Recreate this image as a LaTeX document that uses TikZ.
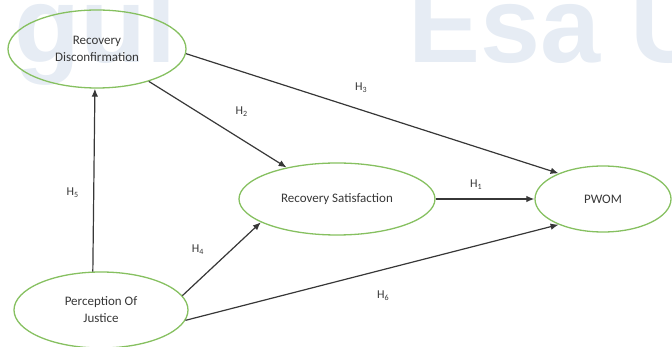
\documentclass[tikz,border=0pt]{standalone}
\usepackage{fontspec}
\setmainfont{Carlito}
\newfontfamily\wmfont{Liberation Sans}
\usetikzlibrary{arrows.meta,shapes.geometric}
\definecolor{ringgreen}{RGB}{134,192,96}
\definecolor{inkgray}{RGB}{55,55,55}
\definecolor{wmblue}{RGB}{230,236,244}

\begin{document}
\begin{tikzpicture}[
    x=1pt, y=-1pt,
    construct/.style={draw=ringgreen, line width=1.3pt, ellipse, inner sep=0pt, align=center, text=inkgray, font=\fontsize{13}{17}\selectfont},
    arr/.style={-{Latex[length=8pt,width=6.5pt]}, line width=1.2pt, inkgray},
    lbl/.style={font=\fontsize{12}{14}\selectfont, text=inkgray, inner sep=1pt},
    wm/.style={font=\wmfont\bfseries\fontsize{108}{108}\selectfont, text=wmblue, inner sep=0pt}
]
\useasboundingbox (0,0) rectangle (672,347);
% watermark
\begin{scope}
\clip (0,0) rectangle (672,347);
\node[wm, anchor=base east] (G) at (177,63) {gul};
\node[wm, anchor=base west] (E) at (408,63) {Esa U};
\end{scope}

\node[construct, minimum width=178pt, minimum height=78pt] (D) at (97,49) {Recovery\\Disconfirmation};
\node[construct, minimum width=196pt, minimum height=72pt] (S) at (337,199) {Recovery Satisfaction};
\node[construct, minimum width=136pt, minimum height=66pt] (W) at (603,199) {PWOM};
\node[construct, minimum width=174pt, minimum height=76pt] (J) at (101,310) {Perception Of\\Justice};

\draw[arr] (J.102) -- node[lbl, pos=0.43, xshift=-21pt] (h5) {H\textsubscript{5}} (D.267);
\draw[arr] (D) -- node[lbl, pos=0.55, xshift=17pt, yshift=17pt] (h2) {H\textsubscript{2}} (S);
\draw[arr] (D.-3) -- node[lbl, pos=0.47, yshift=22pt] (h3) {H\textsubscript{3}} (W.150);
\draw[arr] (S) -- node[lbl, pos=0.41, yshift=14pt] (h1) {H\textsubscript{1}} (W);
\draw[arr] (J.10) -- node[lbl, pos=0.39, xshift=-15pt, yshift=17pt] (h4) {H\textsubscript{4}} (S.197);
\draw[arr] (J.-7) -- node[lbl, pos=0.53, yshift=-26pt] (h6) {H\textsubscript{6}} (W.210);
\end{tikzpicture}
\end{document}
